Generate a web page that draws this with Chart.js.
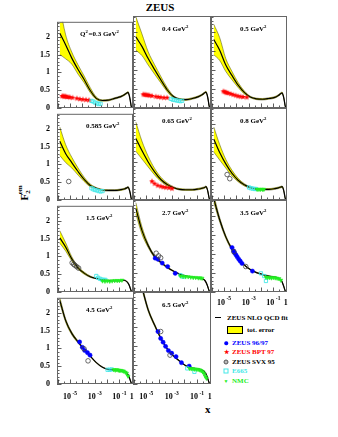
<!DOCTYPE html>
<html>
<head>
<meta charset="utf-8">
<script src="https://cdn.jsdelivr.net/npm/chart.js@4.4.1/dist/chart.umd.min.js"></script>
<style>
  body { margin: 0; width: 338px; height: 437px; background: #fff; position: relative; overflow: hidden;
         font-family: 'Liberation Serif', 'Times New Roman', serif; font-weight: bold; }
  canvas { position: absolute; }
  .txt { position: absolute; white-space: nowrap; line-height: 1; }
  #title { left: 0; width: 320px; top: 2px; text-align: center; font-size: 11px; }
  #ytitle { left: 24px; top: 193px; font-size: 11px; transform: translate(-50%, -50%) rotate(-90deg); }
  #ytitle sub { font-size: 7px; vertical-align: -2px; margin-right: -4px; }
  #ytitle sup { font-size: 7px; vertical-align: 6px; }
  #xtitle { left: 205px; top: 404px; font-size: 11px; }
  .leg { position: absolute; font-size: 7px; white-space: nowrap; line-height: 1; transform: translateY(-50%); }
  .mk { position: absolute; transform: translate(-50%, -50%); line-height: 1; }
</style>
</head>
<body>
<div id="title" class="txt">ZEUS</div>
<div id="ytitle" class="txt">F<sub>2</sub><sup>em</sup></div>
<div id="xtitle" class="txt">x</div>

<div style="position:absolute;left:215px;top:317px;width:6px;border-top:1.2px solid #000"></div>
<div class="leg" style="left:227px;top:318px;color:#000">ZEUS NLO QCD fit</div>
<div style="position:absolute;left:227px;top:326px;width:14px;height:6px;background:#ffff00;border:1px solid #000"></div>
<div class="leg" style="left:247px;top:330px;color:#000">tot. error</div>

<div class="mk" style="left:226px;top:343px;width:3.5px;height:3.5px;border-radius:50%;background:#0000ff"></div>
<div class="leg" style="left:232px;top:343px;color:#0000ff">ZEUS 96/97</div>
<div class="mk" style="left:226px;top:352px;font-size:6px;color:#ff0000">★</div>
<div class="leg" style="left:232px;top:352px;color:#ff0000">ZEUS BPT 97</div>
<div class="mk" style="left:226px;top:362px;width:3px;height:3px;border-radius:50%;border:0.8px solid #555;background:#bbb"></div>
<div class="leg" style="left:232px;top:362px;color:#000">ZEUS SVX 95</div>
<div class="mk" style="left:226px;top:371px;width:3px;height:3px;border:0.8px solid #44e8e8"></div>
<div class="leg" style="left:232px;top:371px;color:#44e8e8">E665</div>
<div class="mk" style="left:226px;top:380.5px;font-size:5px;color:#22ee22">▼</div>
<div class="leg" style="left:232px;top:380.5px;color:#22ee22">NMC</div>

<script>
const SERIF = "'Liberation Serif', 'Times New Roman', serif";

const FIT_X = [1.5e-6, 4.5e-6, 1.4e-5, 4.5e-5, 1.4e-4, 4.4e-4, 1.35e-3, 4.3e-3, 0.013, 0.042,
               0.13, 0.25, 0.4, 0.5, 0.62, 0.75, 0.88, 1.0];

// axis ticks
const X_MIN = 8.9e-7;
const X_MAX = 1.26;
const Y_MAX = 2.42;
const X_MAJOR = [1e-6, 1e-5, 1e-4, 1e-3, 1e-2, 1e-1, 1];
const X_MINOR = [3e-6, 3e-5, 3e-4, 3e-3, 3e-2, 3e-1];
const X_LABEL_VALUES = [1e-5, 1e-3, 1e-1, 1];
const X_LABEL_BASES = ['10', '10', '10', '1'];
const X_LABEL_EXPS = ['-5', '-3', '-1', ''];
const Y_MAJOR = [0, 0.5, 1, 1.5, 2];
const Y_MINOR = [0.1, 0.2, 0.3, 0.4, 0.6, 0.7, 0.8, 0.9, 1.1, 1.2, 1.3, 1.4,
                 1.6, 1.7, 1.8, 1.9, 2.1, 2.2, 2.3, 2.4];

// ---- Q2 = 0.3
const q03Fit = [2.10, 1.77, 1.40, 1.08, 0.80, 0.49, 0.27, 0.21, 0.22, 0.27, 0.32, 0.37, 0.42, 0.44, 0.36, 0.22, 0.07, 0.0];
const q03Hi  = [2.85, 2.05, 1.57, 1.21, 0.90, 0.57, 0.31, 0.23, 0.24, 0.29, 0.34, 0.39, 0.44, 0.46, 0.38, 0.23, 0.08, 0.0];
const q03Lo  = [1.50, 1.38, 1.23, 0.95, 0.71, 0.43, 0.24, 0.19, 0.20, 0.25, 0.30, 0.35, 0.40, 0.42, 0.34, 0.21, 0.06, 0.0];
const q03BptX = [2.3e-6, 2.8e-6, 3.3e-6, 4.0e-6, 4.9e-6, 6.0e-6, 7.6e-6, 1.0e-5, 1.6e-5, 3.6e-5, 6.3e-5, 1.1e-4, 2.0e-4, 3.5e-4];
const q03BptY = [0.33, 0.34, 0.32, 0.33, 0.32, 0.31, 0.31, 0.30, 0.29, 0.27, 0.25, 0.24, 0.23, 0.22];
const q03E665X = [5.5e-4, 7.8e-4, 1.1e-3, 1.55e-3, 2.1e-3, 3.0e-3];
const q03E665Y = [0.20, 0.18, 0.15, 0.13, 0.11, 0.12];

// ---- Q2 = 0.4
const q04Fit = [1.87, 1.62, 1.30, 1.01, 0.74, 0.48, 0.30, 0.23, 0.22, 0.25, 0.30, 0.35, 0.40, 0.42, 0.35, 0.22, 0.07, 0.0];
const q04Hi  = [2.40, 1.95, 1.48, 1.14, 0.83, 0.54, 0.33, 0.25, 0.24, 0.27, 0.32, 0.37, 0.42, 0.44, 0.37, 0.23, 0.08, 0.0];
const q04Lo  = [1.52, 1.38, 1.13, 0.89, 0.66, 0.43, 0.27, 0.21, 0.20, 0.23, 0.28, 0.33, 0.38, 0.40, 0.33, 0.21, 0.06, 0.0];
const q04BptX = [5.8e-6, 7.2e-6, 9.1e-6, 1.15e-5, 1.45e-5, 1.8e-5, 2.8e-5, 5.6e-5, 8.9e-5, 1.4e-4, 2.5e-4, 4.4e-4];
const q04BptY = [0.36, 0.35, 0.35, 0.34, 0.34, 0.33, 0.32, 0.30, 0.29, 0.28, 0.27, 0.27];
const q04E665X = [8.7e-4, 1.2e-3, 1.7e-3, 2.4e-3, 3.4e-3, 4.8e-3, 6.7e-3];
const q04E665Y = [0.24, 0.22, 0.21, 0.20, 0.19, 0.18, 0.19];

// ---- Q2 = 0.5
const q05Fit = [1.80, 1.52, 1.13, 0.85, 0.60, 0.41, 0.29, 0.24, 0.23, 0.25, 0.28, 0.33, 0.38, 0.40, 0.33, 0.21, 0.07, 0.0];
const q05Hi  = [2.20, 1.85, 1.30, 0.96, 0.67, 0.45, 0.31, 0.26, 0.25, 0.27, 0.30, 0.35, 0.40, 0.42, 0.35, 0.22, 0.08, 0.0];
const q05Lo  = [1.40, 1.25, 0.96, 0.74, 0.54, 0.37, 0.27, 0.22, 0.21, 0.23, 0.26, 0.31, 0.36, 0.38, 0.31, 0.20, 0.06, 0.0];
const q05BptX = [9.1e-6, 1.15e-5, 1.45e-5, 1.8e-5, 2.3e-5, 3.6e-5, 5.6e-5, 8.9e-5, 1.4e-4, 2.2e-4, 3.5e-4, 6.9e-4];
const q05BptY = [0.44, 0.42, 0.41, 0.40, 0.39, 0.37, 0.35, 0.33, 0.31, 0.30, 0.29, 0.28];

// ---- Q2 = 0.585
const q0585Fit = [1.65, 1.30, 1.05, 0.80, 0.58, 0.41, 0.33, 0.28, 0.27, 0.27, 0.29, 0.31, 0.34, 0.36, 0.30, 0.19, 0.06, 0.0];
const q0585Hi  = [2.05, 1.55, 1.20, 0.90, 0.64, 0.45, 0.35, 0.30, 0.29, 0.29, 0.31, 0.33, 0.36, 0.38, 0.32, 0.20, 0.07, 0.0];
const q0585Lo  = [1.25, 1.05, 0.90, 0.70, 0.52, 0.37, 0.31, 0.26, 0.25, 0.25, 0.27, 0.29, 0.32, 0.34, 0.28, 0.18, 0.05, 0.0];
const q0585SvxX = [7.9e-6];
const q0585SvxY = [0.52];
const q0585E665X = [5.5e-4, 7.8e-4, 1.07e-3, 1.5e-3, 2.1e-3, 3.0e-3, 4.3e-3];
const q0585E665Y = [0.33, 0.30, 0.28, 0.27, 0.25, 0.24, 0.25];

// ---- Q2 = 0.65
const q065Fit = [1.62, 1.30, 1.00, 0.74, 0.54, 0.41, 0.33, 0.28, 0.27, 0.27, 0.29, 0.31, 0.33, 0.35, 0.30, 0.19, 0.06, 0.0];
const q065Hi  = [2.05, 1.55, 1.15, 0.83, 0.60, 0.45, 0.35, 0.30, 0.29, 0.29, 0.31, 0.33, 0.35, 0.37, 0.32, 0.20, 0.07, 0.0];
const q065Lo  = [1.28, 1.08, 0.87, 0.66, 0.49, 0.37, 0.31, 0.26, 0.25, 0.25, 0.27, 0.29, 0.31, 0.33, 0.28, 0.18, 0.05, 0.0];
const q065BptX = [2.8e-5, 4.5e-5, 7.9e-5, 1.4e-4, 2.2e-4, 3.5e-4, 6.2e-4, 1.07e-3];
const q065BptY = [0.49, 0.43, 0.38, 0.36, 0.34, 0.33, 0.32, 0.30];

// ---- Q2 = 0.8
const q08Fit = [1.60, 1.25, 0.95, 0.70, 0.52, 0.40, 0.33, 0.29, 0.28, 0.28, 0.30, 0.32, 0.34, 0.35, 0.30, 0.19, 0.06, 0.0];
const q08Hi  = [1.92, 1.46, 1.07, 0.78, 0.57, 0.43, 0.35, 0.31, 0.30, 0.30, 0.32, 0.34, 0.36, 0.37, 0.32, 0.20, 0.07, 0.0];
const q08Lo  = [1.26, 1.05, 0.84, 0.63, 0.48, 0.37, 0.31, 0.27, 0.26, 0.26, 0.28, 0.30, 0.32, 0.33, 0.28, 0.18, 0.05, 0.0];
const q08SvxX = [1.8e-5, 2.95e-5];
const q08SvxY = [0.67, 0.56];
const q08E665X = [1.07e-3, 1.5e-3, 2.1e-3, 3.0e-3, 3.8e-3];
const q08E665Y = [0.33, 0.31, 0.30, 0.29, 0.29];
const q08NmcX = [4.8e-3, 6.8e-3, 9.3e-3, 0.013, 0.017];
const q08NmcY = [0.28, 0.28, 0.28, 0.28, 0.28];

// ---- Q2 = 1.5
const q15Fit = [1.52, 1.26, 0.93, 0.68, 0.53, 0.43, 0.38, 0.34, 0.32, 0.32, 0.32, 0.33, 0.29, 0.25, 0.19, 0.11, 0.04, 0.0];
const q15Hi  = [1.72, 1.38, 0.99, 0.72, 0.56, 0.45, 0.39, 0.35, 0.33, 0.33, 0.33, 0.34, 0.30, 0.26, 0.20, 0.12, 0.05, 0.0];
const q15Lo  = [1.37, 1.15, 0.87, 0.64, 0.50, 0.41, 0.37, 0.33, 0.31, 0.31, 0.31, 0.32, 0.28, 0.24, 0.18, 0.10, 0.03, 0.0];
const q15SvxX = [1.5e-5, 2.0e-5, 2.5e-5, 3.5e-5, 5.0e-5];
const q15SvxY = [0.82, 0.78, 0.75, 0.71, 0.67];
const q15E665X = [1.35e-3, 1.9e-3, 2.7e-3, 3.8e-3, 5.4e-3, 7.4e-3];
const q15E665Y = [0.45, 0.40, 0.37, 0.35, 0.34, 0.34];
const q15NmcX = [4.3e-3, 6.8e-3, 0.0105, 0.0166, 0.026, 0.042, 0.066, 0.10, 0.16];
const q15NmcY = [0.31, 0.30, 0.31, 0.30, 0.31, 0.32, 0.32, 0.32, 0.33];

// ---- Q2 = 2.7
const q27Fit = [2.20, 1.62, 1.22, 0.93, 0.78, 0.65, 0.55, 0.47, 0.42, 0.39, 0.37, 0.35, 0.31, 0.26, 0.19, 0.11, 0.04, 0.0];
const q27Hi  = [2.35, 1.72, 1.27, 0.96, 0.80, 0.67, 0.56, 0.48, 0.43, 0.40, 0.38, 0.36, 0.32, 0.27, 0.20, 0.12, 0.05, 0.0];
const q27Lo  = [2.05, 1.52, 1.17, 0.90, 0.76, 0.63, 0.54, 0.46, 0.41, 0.38, 0.36, 0.34, 0.30, 0.25, 0.18, 0.10, 0.03, 0.0];
const q27ZeusX = [5.0e-5, 8.3e-5, 1.8e-4, 4.8e-4, 1.9e-3];
const q27ZeusY = [0.89, 0.86, 0.76, 0.67, 0.49];
const q27SvxX = [6.0e-5, 9.3e-5, 1.35e-4];
const q27SvxY = [1.02, 0.95, 0.90];
const q27E665X = [5.0e-3, 8.0e-3];
const q27E665Y = [0.44, 0.40];
const q27NmcX = [5.0e-3, 7.9e-3, 0.0126, 0.020, 0.032, 0.050, 0.079, 0.126, 0.178, 0.25];
const q27NmcY = [0.42, 0.41, 0.40, 0.40, 0.39, 0.38, 0.38, 0.37, 0.37, 0.36];

// ---- Q2 = 3.5
const q35Fit = [2.45, 1.90, 1.45, 1.12, 0.88, 0.71, 0.59, 0.51, 0.46, 0.42, 0.39, 0.36, 0.32, 0.27, 0.19, 0.11, 0.04, 0.0];
const q35Hi  = [2.55, 1.96, 1.49, 1.15, 0.90, 0.72, 0.60, 0.52, 0.47, 0.43, 0.40, 0.37, 0.33, 0.28, 0.20, 0.12, 0.05, 0.0];
const q35Lo  = [2.35, 1.84, 1.41, 1.09, 0.86, 0.70, 0.58, 0.50, 0.45, 0.41, 0.38, 0.35, 0.31, 0.26, 0.18, 0.10, 0.03, 0.0];
const q35ZeusX = [4.5e-5, 6.0e-5, 7.5e-5, 9.5e-5, 1.2e-4, 1.6e-4, 2.1e-4, 2.9e-4, 2.0e-3];
const q35ZeusY = [1.17, 1.08, 1.02, 0.97, 0.92, 0.86, 0.81, 0.75, 0.55];
const q35SvxX = [6.3e-5, 5.8e-4];
const q35SvxY = [1.06, 0.67];
const q35E665X = [9.8e-3, 0.018, 0.025];
const q35E665Y = [0.49, 0.42, 0.29];
const q35NmcX = [0.025, 0.035, 0.050, 0.070, 0.10, 0.14, 0.20, 0.28, 0.40];
const q35NmcY = [0.39, 0.38, 0.38, 0.37, 0.38, 0.37, 0.36, 0.35, 0.31];

// ---- Q2 = 4.5
const q45Fit = [2.35, 1.78, 1.42, 1.18, 0.97, 0.78, 0.60, 0.47, 0.41, 0.39, 0.37, 0.35, 0.31, 0.26, 0.19, 0.11, 0.04, 0.0];
const q45Hi  = [2.43, 1.83, 1.46, 1.21, 0.99, 0.79, 0.61, 0.48, 0.42, 0.40, 0.38, 0.36, 0.32, 0.27, 0.20, 0.12, 0.05, 0.0];
const q45Lo  = [2.27, 1.73, 1.38, 1.15, 0.95, 0.77, 0.59, 0.46, 0.40, 0.38, 0.36, 0.34, 0.30, 0.25, 0.18, 0.10, 0.03, 0.0];
const q45ZeusX = [6.0e-5, 1.0e-4, 1.55e-4, 2.6e-4, 4.2e-4];
const q45ZeusY = [1.18, 1.03, 0.94, 0.88, 0.81];
const q45SvxX = [1.35e-4, 2.9e-4];
const q45SvxY = [0.99, 0.65];
const q45E665X = [0.011, 0.016, 0.024];
const q45E665Y = [0.40, 0.40, 0.41];
const q45NmcX = [0.035, 0.046, 0.060, 0.080, 0.10, 0.13, 0.17, 0.22, 0.30, 0.38, 0.50];
const q45NmcY = [0.40, 0.39, 0.40, 0.39, 0.38, 0.38, 0.37, 0.36, 0.33, 0.30, 0.22];

// ---- Q2 = 6.5
const q65Fit = [3.20, 2.55, 1.95, 1.55, 1.20, 0.93, 0.74, 0.60, 0.48, 0.42, 0.39, 0.36, 0.32, 0.27, 0.19, 0.11, 0.04, 0.0];
const q65Hi  = [3.30, 2.61, 1.99, 1.58, 1.22, 0.94, 0.75, 0.61, 0.49, 0.43, 0.40, 0.37, 0.33, 0.28, 0.20, 0.12, 0.05, 0.0];
const q65Lo  = [3.10, 2.49, 1.91, 1.52, 1.18, 0.92, 0.73, 0.59, 0.47, 0.41, 0.38, 0.35, 0.31, 0.26, 0.18, 0.10, 0.03, 0.0];
const q65ZeusX = [8.3e-5, 1.35e-4, 2.1e-4, 3.3e-4, 5.5e-4, 1.0e-3, 2.2e-3, 5.9e-3, 0.024];
const q65ZeusY = [1.38, 1.20, 1.10, 0.99, 0.88, 0.81, 0.72, 0.56, 0.47];
const q65SvxX = [1.35e-4, 7.4e-4];
const q65SvxY = [1.38, 0.76];
const q65E665X = [0.017, 0.062];
const q65E665Y = [0.41, 0.32];
const q65NmcX = [0.026, 0.035, 0.048, 0.065, 0.09, 0.12, 0.16, 0.21, 0.28, 0.36, 0.45, 0.55];
const q65NmcY = [0.41, 0.40, 0.40, 0.39, 0.39, 0.38, 0.37, 0.35, 0.32, 0.27, 0.20, 0.15];

// grid geometry (px) of the 4x3 panel layout
const COL_LEFT = [57, 133, 211];
const COL_WIDTH = [76, 78, 76];
const ROW_TOP = [16, 108, 200, 292];
const ROW_HEIGHT = 92;
const PAD_L = 40, PAD_R = 6, PAD_T = 6, PAD_B = 24;

const PANELS = [
  { q2: '0.3', row: 0, col: 0, fit: q03Fit, hi: q03Hi, lo: q03Lo, bpt: [q03BptX, q03BptY], e665: [q03E665X, q03E665Y] },
  { q2: '0.4', row: 0, col: 1, fit: q04Fit, hi: q04Hi, lo: q04Lo, bpt: [q04BptX, q04BptY], e665: [q04E665X, q04E665Y] },
  { q2: '0.5', row: 0, col: 2, fit: q05Fit, hi: q05Hi, lo: q05Lo, bpt: [q05BptX, q05BptY] },
  { q2: '0.585', row: 1, col: 0, fit: q0585Fit, hi: q0585Hi, lo: q0585Lo, svx: [q0585SvxX, q0585SvxY], e665: [q0585E665X, q0585E665Y] },
  { q2: '0.65', row: 1, col: 1, fit: q065Fit, hi: q065Hi, lo: q065Lo, bpt: [q065BptX, q065BptY] },
  { q2: '0.8', row: 1, col: 2, fit: q08Fit, hi: q08Hi, lo: q08Lo, svx: [q08SvxX, q08SvxY], e665: [q08E665X, q08E665Y], nmc: [q08NmcX, q08NmcY] },
  { q2: '1.5', row: 2, col: 0, fit: q15Fit, hi: q15Hi, lo: q15Lo, svx: [q15SvxX, q15SvxY], e665: [q15E665X, q15E665Y], nmc: [q15NmcX, q15NmcY] },
  { q2: '2.7', row: 2, col: 1, fit: q27Fit, hi: q27Hi, lo: q27Lo, zeus: [q27ZeusX, q27ZeusY], svx: [q27SvxX, q27SvxY], e665: [q27E665X, q27E665Y], nmc: [q27NmcX, q27NmcY] },
  { q2: '3.5', row: 2, col: 2, fit: q35Fit, hi: q35Hi, lo: q35Lo, zeus: [q35ZeusX, q35ZeusY], svx: [q35SvxX, q35SvxY], e665: [q35E665X, q35E665Y], nmc: [q35NmcX, q35NmcY], xLabels: 9.5 },
  { q2: '4.5', row: 3, col: 0, fit: q45Fit, hi: q45Hi, lo: q45Lo, zeus: [q45ZeusX, q45ZeusY], svx: [q45SvxX, q45SvxY], e665: [q45E665X, q45E665Y], nmc: [q45NmcX, q45NmcY], xLabels: 12 },
  { q2: '6.5', row: 3, col: 1, fit: q65Fit, hi: q65Hi, lo: q65Lo, zeus: [q65ZeusX, q65ZeusY], svx: [q65SvxX, q65SvxY], e665: [q65E665X, q65E665Y], nmc: [q65NmcX, q65NmcY], xLabels: 12 },
];

// filled 5-point star used for the BPT 97 points
function starImage(r, color) {
  const c = document.createElement('canvas');
  const s = Math.ceil(r * 2 + 2);
  c.width = c.height = s;
  const g = c.getContext('2d');
  g.fillStyle = color;
  g.beginPath();
  for (let i = 0; i < 10; i++) {
    const a = -Math.PI / 2 + i * Math.PI / 5;
    const rr = i % 2 ? r * 0.45 : r;
    g.lineTo(s / 2 + rr * Math.cos(a), s / 2 + rr * Math.sin(a));
  }
  g.closePath();
  g.fill();
  return c;
}

const MARKERS = {
  zeus: { pointStyle: 'circle', pointRadius: 2.1, backgroundColor: '#0000ff', borderColor: '#0000ff', borderWidth: 0.5 },
  bpt:  { pointStyle: starImage(3, '#ff0000'), pointRadius: 3 },
  svx:  { pointStyle: 'circle', pointRadius: 2.3, backgroundColor: 'rgba(0,0,0,0)', borderColor: '#444', borderWidth: 0.8 },
  e665: { pointStyle: 'rect', pointRadius: 2.3, backgroundColor: 'rgba(0,0,0,0)', borderColor: '#44e8e8', borderWidth: 0.9 },
  nmc:  { pointStyle: 'triangle', rotation: 180, pointRadius: 2.3, backgroundColor: '#22ee22', borderColor: '#22ee22', borderWidth: 0.5 },
};

function zip(xs, ys) {
  return xs.map((x, i) => ({ x, y: ys[i] }));
}

// draw a run of [text, isSuperscript] pieces starting at x
function drawRich(ctx, parts, x, y, size) {
  for (const [text, sup] of parts) {
    ctx.font = `bold ${sup ? size * 0.68 : size}px ${SERIF}`;
    ctx.fillText(text, x, sup ? y - size * 0.42 : y);
    x += ctx.measureText(text).width + (sup ? 0.6 : 0);
  }
}

const panelDecor = {
  id: 'panelDecor',
  afterDraw(chart, args, opts) {
    const { ctx, chartArea: a, scales: { x, y } } = chart;
    ctx.save();
    ctx.strokeStyle = '#333';
    ctx.lineWidth = 0.8;
    ctx.beginPath();
    for (const v of Y_MAJOR) {
      const py = Math.round(y.getPixelForValue(v)) + 0.5;
      ctx.moveTo(a.left, py); ctx.lineTo(a.left + 4.5, py);
    }
    for (const v of Y_MINOR) {
      const py = Math.round(y.getPixelForValue(v)) + 0.5;
      ctx.moveTo(a.left, py); ctx.lineTo(a.left + 2.5, py);
    }
    for (const v of X_MAJOR) {
      const px = Math.round(x.getPixelForValue(v)) + 0.5;
      ctx.moveTo(px, a.bottom); ctx.lineTo(px, a.bottom - 4.5);
    }
    for (const v of X_MINOR) {
      const px = Math.round(x.getPixelForValue(v)) + 0.5;
      ctx.moveTo(px, a.bottom); ctx.lineTo(px, a.bottom - 2.5);
    }
    ctx.stroke();

    ctx.strokeStyle = '#666';
    ctx.lineWidth = 1;
    ctx.strokeRect(a.left + 0.5, a.top + 0.5, a.width - 1, a.height - 1);

    // Q2 label
    ctx.fillStyle = '#000';
    ctx.textBaseline = 'alphabetic';
    const parts = opts.first
      ? [['Q', false], ['2', true], ['=' + opts.q2 + ' GeV', false], ['2', true]]
      : [[opts.q2 + ' GeV', false], ['2', true]];
    drawRich(ctx, parts, a.left + (opts.first ? 23 : 29), a.top + 14.5, 7);

    // log-x labels below the panel
    if (opts.xLabels) {
      X_LABEL_VALUES.forEach((v, i) => {
        const base = X_LABEL_BASES[i], exp = X_LABEL_EXPS[i];
        ctx.font = `bold 8px ${SERIF}`;
        const wb = ctx.measureText(base).width;
        ctx.font = `bold 5.5px ${SERIF}`;
        const we = exp ? ctx.measureText(exp).width + 1.5 : 0;
        const px = x.getPixelForValue(v);
        const x0 = px - (wb + we) / 2;
        const by = a.bottom + opts.xLabels + 3;
        ctx.font = `bold 8px ${SERIF}`;
        ctx.fillText(base, x0, by);
        if (exp) {
          ctx.font = `bold 5.5px ${SERIF}`;
          ctx.fillText(exp, x0 + wb + 1.5, by - 4.5);
        }
      });
    }
    ctx.restore();
  },
};

function makePanel(p) {
  const w = COL_WIDTH[p.col], h = ROW_HEIGHT;
  const cw = w + PAD_L + PAD_R, ch = h + PAD_T + PAD_B;
  const canvas = document.createElement('canvas');
  canvas.width = cw;
  canvas.height = ch;
  canvas.style.left = (COL_LEFT[p.col] - PAD_L) + 'px';
  canvas.style.top = (ROW_TOP[p.row] - PAD_T) + 'px';
  canvas.style.width = cw + 'px';
  canvas.style.height = ch + 'px';
  document.body.appendChild(canvas);

  const curve = { showLine: true, pointRadius: 0, cubicInterpolationMode: 'monotone' };
  const datasets = [
    { ...curve, data: zip(FIT_X, p.hi), borderColor: 'rgba(60,60,0,0.8)', borderWidth: 0.6,
      backgroundColor: '#ffff00', fill: '+1', order: 3 },
    { ...curve, data: zip(FIT_X, p.lo), borderColor: 'rgba(60,60,0,0.8)', borderWidth: 0.6, fill: false, order: 3 },
    { ...curve, data: zip(FIT_X, p.fit), borderColor: '#000', borderWidth: 1.2, fill: false, order: 2 },
  ];
  for (const key of ['nmc', 'e665', 'svx', 'bpt', 'zeus']) {
    if (!p[key]) continue;
    datasets.push({ ...MARKERS[key], data: zip(p[key][0], p[key][1]), showLine: false, order: 1 });
  }

  new Chart(canvas, {
    type: 'line',
    data: { datasets },
    options: {
      responsive: false,
      animation: false,
      devicePixelRatio: 1,
      layout: { padding: { top: PAD_T, right: PAD_R, left: 0, bottom: 0 } },
      plugins: {
        legend: { display: false },
        tooltip: { enabled: false },
        filler: { drawTime: 'beforeDatasetsDraw' },
        panelDecor: { q2: p.q2, first: p.row === 0 && p.col === 0, xLabels: p.xLabels || 0 },
      },
      scales: {
        x: {
          type: 'logarithmic', min: X_MIN, max: X_MAX,
          grid: { display: false, drawTicks: false }, border: { display: false },
          ticks: { display: false },
          afterFit: (s) => { s.height = PAD_B; },
        },
        y: {
          type: 'linear', min: 0, max: Y_MAX,
          grid: { display: false, drawTicks: false }, border: { display: false },
          afterBuildTicks: (s) => { s.ticks = Y_MAJOR.map((v) => ({ value: v })); },
          ticks: {
            display: p.col === 0, padding: 7, color: '#000',
            font: { family: SERIF, size: 8, weight: 'bold' },
            callback: (v) => String(v),
          },
          afterFit: (s) => { s.width = PAD_L; },
        },
      },
    },
    plugins: [panelDecor],
  });
}

PANELS.forEach(makePanel);
</script>
</body>
</html>
